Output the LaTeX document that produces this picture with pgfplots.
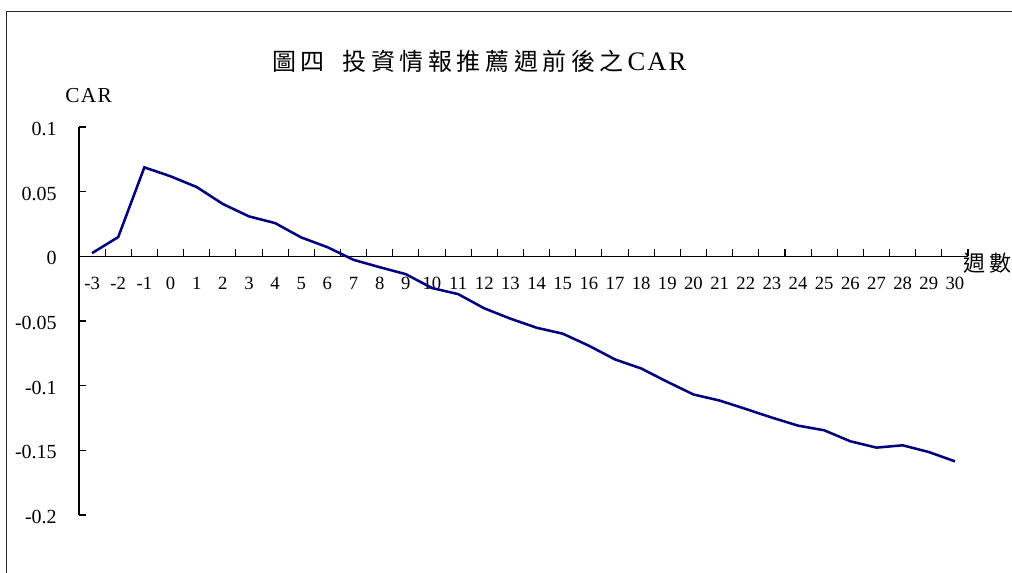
\documentclass[border=0pt]{standalone}
\usepackage{fontspec}
\setmainfont{Liberation Serif}
\newfontfamily\cjk{Noto Sans CJK TC}
\usepackage{pgfplots}
\pgfplotsset{compat=1.18}

% cumulative abnormal return by week
\pgfplotstableread{
wk car
-3 0.0025
-2 0.0149
-1 0.0688
0 0.0619
1 0.0536
2 0.0405
3 0.0309
4 0.0257
5 0.0146
6 0.0071
7 -0.0027
8 -0.0084
9 -0.0138
10 -0.0245
11 -0.0292
12 -0.0402
13 -0.0482
14 -0.0552
15 -0.0598
16 -0.0691
17 -0.0797
18 -0.0867
19 -0.0970
20 -0.1068
21 -0.1115
22 -0.1180
23 -0.1247
24 -0.1309
25 -0.1345
26 -0.1430
27 -0.1479
28 -0.1461
29 -0.1513
30 -0.1585
}\cardata

\definecolor{carline}{RGB}{0,0,128}
\definecolor{frame}{RGB}{40,40,40}
\newcommand\ck{\kern3.4pt}

\begin{document}
\begin{tikzpicture}
\useasboundingbox (0,0) rectangle (759pt,429pt);
% outer frame
\draw[frame, line width=1.1pt] (5pt,-2pt) -- (5pt,420.2pt) -- (762pt,420.2pt);

\begin{axis}[
  at={(59.25pt,42.75pt)}, anchor=south west,
  scale only axis, width=666.75pt, height=291pt,
  xmin=-3.5, xmax=30.5, ymin=-0.2, ymax=0.1,
  axis x line=middle, axis y line=left,
  axis line style={-, black, line width=0.8pt},
  clip=false,
  % ticks sit between the weeks, each label under the middle of its week
  xtick={-2.5,-1.5,-0.5,0.5,1.5,2.5,3.5,4.5,5.5,6.5,7.5,8.5,9.5,10.5,11.5,12.5,13.5,14.5,15.5,16.5,17.5,18.5,19.5,20.5,21.5,22.5,23.5,24.5,25.5,26.5,27.5,28.5,29.5,30.5},
  xticklabels={-3,-2,-1,0,1,2,3,4,5,6,7,8,9,10,11,12,13,14,15,16,17,18,19,20,21,22,23,24,25,26,27,28,29,30},
  xticklabel style={font=\fontsize{14}{14}\selectfont, inner sep=0pt, anchor=north, xshift=-9.8pt, yshift=-15.5pt},
  ytick={-0.2,-0.15,-0.1,-0.05,0,0.05,0.1},
  yticklabels={-0.2,-0.15,-0.1,-0.05,0,0.05,0.1},
  tick align=inside,
  major tick length=5.5pt,
  tick style={black, line width=0.8pt},
  yticklabel style={font=\fontsize{15}{15}\selectfont, inner sep=0pt, anchor=east, xshift=-16.5pt, yshift=-1.5pt},
]
\addplot[carline, line width=1.9pt, mark=none] table[x=wk, y=car] {\cardata};
\end{axis}

% title
\node[anchor=base west, inner sep=0pt] at (204pt,375.75pt)
  {{\cjk\fontsize{18}{18}\selectfont 圖\ck 四}\kern13.5pt{\cjk\fontsize{18}{18}\selectfont 投\ck 資\ck 情\ck 報\ck 推\ck 薦\ck 週\ck 前\ck 後\ck 之}\kern3pt{\fontsize{20}{20}\selectfont C\kern1.5pt A\kern1.5pt R}};
% axis names
\node[anchor=base west, inner sep=0pt] at (48.75pt,352pt)
  {\fontsize{16}{16}\selectfont C\kern1pt A\kern1pt R};
\node[anchor=base west, inner sep=0pt] at (722.25pt,225.75pt)
  {\cjk\fontsize{16.5}{16.5}\selectfont 週\kern3.5pt 數};
\end{tikzpicture}
\end{document}
